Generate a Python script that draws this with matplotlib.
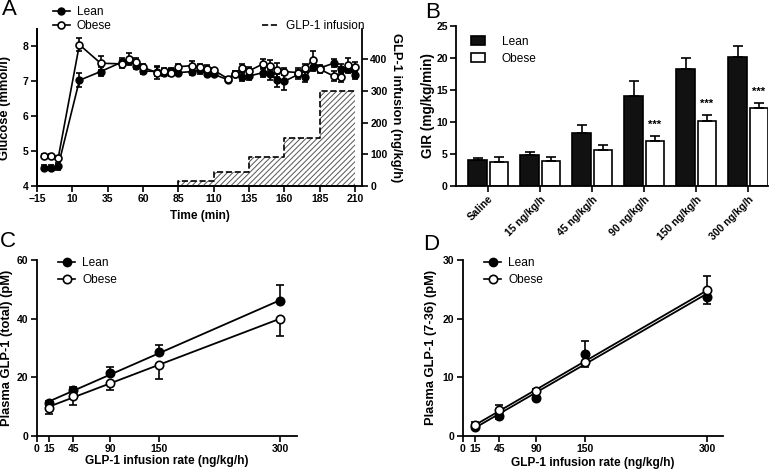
import matplotlib
matplotlib.use('Agg')
import matplotlib.pyplot as plt
from matplotlib.lines import Line2D
from matplotlib.patches import Patch
import numpy as np

plt.rcParams['font.family'] = ['Liberation Sans', 'DejaVu Sans']
plt.rcParams['hatch.linewidth'] = 0.7
plt.rcParams['axes.linewidth'] = 1.3

# Panel A: plasma glucose during clamp + GLP-1 infusion steps
time_min = [-10, -5, 0, 15, 30, 45, 50, 55, 60, 70, 75, 80, 85, 95, 100, 105, 110,
            120, 125, 130, 135, 145, 150, 155, 160, 170, 175, 180, 185, 195, 200, 205, 210]
glucose_lean = [4.53, 4.53, 4.57, 7.03, 7.28, 7.55, 7.58, 7.45, 7.3, 7.28, 7.25, 7.3, 7.25,
                7.28, 7.32, 7.22, 7.2, 7.05, 7.22, 7.12, 7.15, 7.25, 7.2, 7.03, 7.0,
                7.2, 7.12, 7.42, 7.38, 7.52, 7.35, 7.35, 7.18]
glucose_lean_sem = [0.08, 0.08, 0.1, 0.2, 0.12, 0.12, 0.1, 0.1, 0.08, 0.12, 0.1, 0.08, 0.08,
                    0.1, 0.1, 0.08, 0.06, 0.06, 0.08, 0.12, 0.12, 0.12, 0.15, 0.18, 0.25,
                    0.12, 0.15, 0.12, 0.1, 0.12, 0.15, 0.12, 0.1]
glucose_obese = [4.85, 4.85, 4.8, 8.05, 7.52, 7.5, 7.65, 7.55, 7.4, 7.25, 7.3, 7.25, 7.42,
                 7.45, 7.4, 7.35, 7.32, 7.08, 7.22, 7.38, 7.3, 7.5, 7.45, 7.32, 7.28,
                 7.25, 7.38, 7.62, 7.35, 7.15, 7.12, 7.47, 7.42]
glucose_obese_sem = [0.06, 0.06, 0.06, 0.18, 0.2, 0.12, 0.15, 0.12, 0.1, 0.18, 0.08, 0.1, 0.08,
                     0.12, 0.1, 0.12, 0.06, 0.05, 0.08, 0.12, 0.1, 0.15, 0.15, 0.2, 0.1,
                     0.12, 0.12, 0.25, 0.1, 0.15, 0.15, 0.2, 0.12]
infusion_t = [85, 85, 110, 135, 160, 185, 210]
infusion_rate = [0, 15, 45, 90, 150, 300, 300]

# Panel B: glucose infusion rate
gir_groups = ['Saline', '15 ng/kg/h', '45 ng/kg/h', '90 ng/kg/h', '150 ng/kg/h', '300 ng/kg/h']
gir_lean = [4.1, 4.8, 8.3, 14.1, 18.3, 20.1]
gir_lean_sem = [0.3, 0.5, 1.15, 2.3, 1.7, 1.8]
gir_obese = [3.7, 3.9, 5.6, 7.0, 10.2, 12.2]
gir_obese_sem = [0.75, 0.55, 0.75, 0.8, 0.8, 0.7]
gir_stars = ['', '', '', '***', '***', '***']

# Panels C and D: plasma GLP-1 vs infusion rate
rate = [15, 45, 90, 150, 300]
total_lean = [11.0, 15.5, 21.3, 28.5, 46.0]
total_lean_lo = [0, 0, 0, 0, 0]
total_lean_hi = [1.0, 1.0, 2.2, 2.5, 5.6]
total_obese = [9.5, 13.5, 18.0, 24.0, 40.0]
total_obese_lo = [2.2, 3.0, 2.4, 4.5, 6.0]
total_obese_hi = [0, 0, 0, 0, 0]
active_lean = [1.5, 3.3, 6.4, 14.0, 23.7]
active_lean_lo = [0.3, 0.5, 0.3, 0, 1.2]
active_lean_hi = [0.3, 0, 0.3, 2.2, 0]
active_obese = [1.9, 4.4, 7.6, 12.6, 24.9]
active_obese_lo = [0.5, 0, 0.3, 0.8, 0]
active_obese_hi = [0.4, 0.8, 0.3, 0, 2.3]

W, H = 777, 474
tick_fs = 7.5
lab_fs = 8.6
ylab_fs = 9.3
leg_fs = 8.6


def box(l, r, t, b):
    # pixel edges -> figure fraction rect
    return [l / W, 1 - b / H, (r - l) / W, (b - t) / H]


def style(ax):
    ax.spines['top'].set_visible(False)
    ax.spines['right'].set_visible(False)
    ax.tick_params(direction='out', length=4, width=1.2, labelsize=tick_fs, pad=2)
    for lab in ax.get_xticklabels() + ax.get_yticklabels():
        lab.set_fontweight('bold')


fig = plt.figure(figsize=(W / 100, H / 100), dpi=100)

# ---------------- A ----------------
axA = fig.add_axes(box(37, 362, 29, 186))
axR = axA.twinx()
axR.fill_between(infusion_t[1:], infusion_rate[1:], step='post', facecolor='white',
                 edgecolor='#555555', hatch='//////', linewidth=0)
axR.plot(infusion_t, infusion_rate, drawstyle='steps-post', color='black', ls='--', lw=1.2)
axR.set_ylim(0, 495)
axR.set_yticks([0, 100, 200, 300, 400])
axR.spines['top'].set_visible(False)
axR.tick_params(direction='out', length=4, width=1.2, labelsize=tick_fs, pad=2)
for lab in axR.get_yticklabels():
    lab.set_fontweight('bold')
axR.set_ylabel('GLP-1 infusion (ng/kg/h)', fontsize=ylab_fs, fontweight='bold',
               rotation=270, va='bottom')
axR.yaxis.set_label_coords(1.085, 0.5)

axA.set_zorder(axR.get_zorder() + 1)
axA.patch.set_visible(False)
axA.errorbar(time_min, glucose_lean, yerr=glucose_lean_sem, color='black', marker='o', ms=5,
             mfc='black', lw=1.2, elinewidth=1.2, capsize=2.2, capthick=1.2)
axA.errorbar(time_min, glucose_obese, yerr=glucose_obese_sem, color='black', marker='o', ms=5,
             mfc='white', mew=1.2, lw=1.2, elinewidth=1.2, capsize=2.2, capthick=1.2)
axA.set_xlim(-15, 215)
axA.set_ylim(4, 8.5)
axA.set_xticks(np.arange(-15, 211, 25))
axA.set_yticks([4, 5, 6, 7, 8])
axA.spines['bottom'].set_bounds(-15, 210)
style(axA)
axA.set_xlabel('Time (min)', fontsize=lab_fs, fontweight='bold')
axA.xaxis.set_label_coords(0.5, -0.15)
axA.set_ylabel('Glucose (mmol/l)', fontsize=ylab_fs, fontweight='bold')
axA.yaxis.set_label_coords(-0.08, 0.5)

handles = [Line2D([], [], color='black', marker='o', ms=5, mfc='black', lw=1.2),
           Line2D([], [], color='black', marker='o', ms=5, mfc='white', mew=1.2, lw=1.2)]
fig.legend(handles, ['Lean', 'Obese'], loc='upper left', bbox_to_anchor=(47 / W, 1.0),
           frameon=False, fontsize=leg_fs, borderpad=0, handlelength=1.4,
           handletextpad=0.6, labelspacing=0.15)
fig.legend([Line2D([], [], color='black', ls='--', lw=1.2)], ['GLP-1 infusion'],
           loc='upper left', bbox_to_anchor=(256 / W, 1 - 14 / H), frameon=False,
           fontsize=leg_fs, borderpad=0, handlelength=1.4, handletextpad=0.6)

# ---------------- B ----------------
axB = fig.add_axes(box(456, 768.3, 26, 185.7))
x = np.arange(len(gir_groups))
bw = 0.356
off = 0.204
axB.bar(x - off, gir_lean, bw, color='#111111', edgecolor='black', lw=1.2, label='Lean')
axB.bar(x + off, gir_obese, bw, color='white', edgecolor='black', lw=1.2, label='Obese')
zeros = [0] * len(x)
axB.errorbar(x - off, gir_lean, yerr=[zeros, gir_lean_sem], fmt='none', ecolor='black',
             elinewidth=1.2, capsize=3.6, capthick=1.2)
axB.errorbar(x + off, gir_obese, yerr=[zeros, gir_obese_sem], fmt='none', ecolor='black',
             elinewidth=1.2, capsize=3.6, capthick=1.2)
for i, s in enumerate(gir_stars):
    if s:
        axB.text(x[i] + off, gir_obese[i] + gir_obese_sem[i] + 1.0, s, ha='center',
                 va='bottom', fontsize=8, fontweight='bold')
axB.set_xlim(-0.62, 5.385)
axB.set_ylim(0, 25)
axB.set_yticks([0, 5, 10, 15, 20, 25])
axB.set_xticks(x)
axB.set_xticklabels(gir_groups, rotation=45, ha='right', rotation_mode='anchor')
style(axB)
axB.set_ylabel('GIR (mg/kg/min)', fontsize=ylab_fs + 0.5, fontweight='bold')
axB.yaxis.set_label_coords(-0.066, 0.5)
axB.legend([Patch(facecolor='#111111', edgecolor='black', lw=1.2),
            Patch(facecolor='white', edgecolor='black', lw=1.2)], ['Lean', 'Obese'],
           loc='upper left', bbox_to_anchor=(0.028, 0.975), frameon=False, fontsize=leg_fs,
           borderpad=0, handlelength=1.2, handleheight=0.75, handletextpad=1.4,
           labelspacing=0.4)


# ---------------- C and D ----------------
def dose_panel(ax, lean, lean_lo, lean_hi, obese, obese_lo, obese_hi, ymax, ystep, ylabel):
    xs = np.array(rate, dtype=float)
    for vals, lo, hi, face in [(lean, lean_lo, lean_hi, 'black'),
                               (obese, obese_lo, obese_hi, 'white')]:
        k, b = np.polyfit(xs, vals, 1)
        ax.plot([xs[0], xs[-1]], [k * xs[0] + b, k * xs[-1] + b], color='black', lw=1.3)
        ax.errorbar(xs, vals, yerr=[lo, hi], fmt='o', color='black', ms=6, mfc=face,
                    mew=1.2, elinewidth=1.2, capsize=3, capthick=1.2)
    ax.set_xlim(0, 320)
    ax.set_ylim(0, ymax)
    ax.set_xticks([0, 15, 45, 90, 150, 300])
    ax.set_yticks(np.arange(0, ymax + 1, ystep))
    style(ax)
    ax.set_xlabel('GLP-1 infusion rate (ng/kg/h)', fontsize=lab_fs, fontweight='bold')
    ax.set_ylabel(ylabel, fontsize=ylab_fs, fontweight='bold')
    hs = [Line2D([], [], color='black', marker='o', ms=6, mfc='black', lw=1.2),
          Line2D([], [], color='black', marker='o', ms=6, mfc='white', mew=1.2, lw=1.2)]
    ax.legend(hs, ['Lean', 'Obese'], loc='upper left', bbox_to_anchor=(0.06, 1.05),
              frameon=False, fontsize=leg_fs, borderpad=0, handlelength=1.4,
              handletextpad=0.6, labelspacing=0.4)


axC = fig.add_axes(box(36.8, 296.7, 260, 435.7))
dose_panel(axC, total_lean, total_lean_lo, total_lean_hi, total_obese, total_obese_lo,
           total_obese_hi, 60, 20, 'Plasma GLP-1 (total) (pM)')
axC.xaxis.set_label_coords(0.5, -0.11)
axC.yaxis.set_label_coords(-0.092, 0.5)

axD = fig.add_axes(box(462.7, 723.3, 260, 435.7))
dose_panel(axD, active_lean, active_lean_lo, active_lean_hi, active_obese, active_obese_lo,
           active_obese_hi, 30, 10, 'Plasma GLP-1 (7-36) (pM)')
axD.xaxis.set_label_coords(0.5, -0.12)
axD.yaxis.set_label_coords(-0.099, 0.5)

# panel letters
for lx, ly, letter in [(2, -1, 'A'), (425, 2, 'B'), (0, 231, 'C'), (423, 234, 'D')]:
    fig.text(lx / W, 1 - ly / H, letter, fontsize=16, ha='left', va='top')

fig.savefig('out.png', dpi=100)
